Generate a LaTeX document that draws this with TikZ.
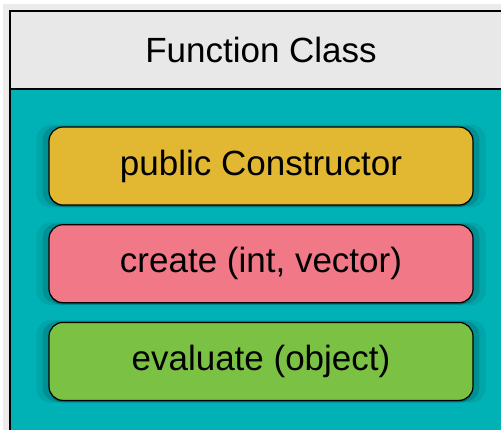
\documentclass[tikz,border=0pt]{standalone}
\usepackage{fontspec}
\setmainfont{Liberation Sans}
\usetikzlibrary{positioning,shadows}

\definecolor{headgray}{HTML}{E8E8E8}
\definecolor{classteal}{HTML}{00B2B6}
\definecolor{ctoryellow}{HTML}{E2B833}
\definecolor{createpink}{HTML}{F07887}
\definecolor{evalgreen}{HTML}{7BC244}

\begin{document}
\begin{tikzpicture}[x=1pt,y=-1pt,node distance=18.5pt,thick,
                    method node/.style={draw,line width=1.2pt,rounded corners=14pt,
                      minimum width=424pt,minimum height=78pt,
                      font=\fontsize{35}{40}\selectfont,
                      general shadow={shadow scale=1.06,fill=black,opacity=0.07},
                      general shadow={shadow scale=1.03,fill=black,opacity=0.12},
                      drop shadow={shadow xshift=0pt,shadow yshift=-2pt,fill=black,opacity=0.25}}]

  \useasboundingbox (0,0) rectangle (501,429);
  \clip (0,0) rectangle (501,429);

  % outer class frame
  \fill[black!15] (6,7) rectangle (530,440);
  \fill[black!8] (3,4) rectangle (530,440);
  \fill[headgray] (10,11) rectangle (530,89);
  \fill[classteal] (10,89) rectangle (530,440);
  \draw[line width=1.3pt] (10,440) -- (10,11) -- (530,11);
  \draw[line width=1.3pt] (10,89) -- (530,89);

  \node[font=\fontsize{35}{40}\selectfont] (head) at (261,50) {Function Class};

  \node[method node,fill=ctoryellow] (ctor) at (261,166) {public Constructor};
  \node[method node,fill=createpink] (create) [below=of ctor] {create (int, vector)};
  \node[method node,fill=evalgreen] (eval) [below=of create] {evaluate (object)};

\end{tikzpicture}
\end{document}
